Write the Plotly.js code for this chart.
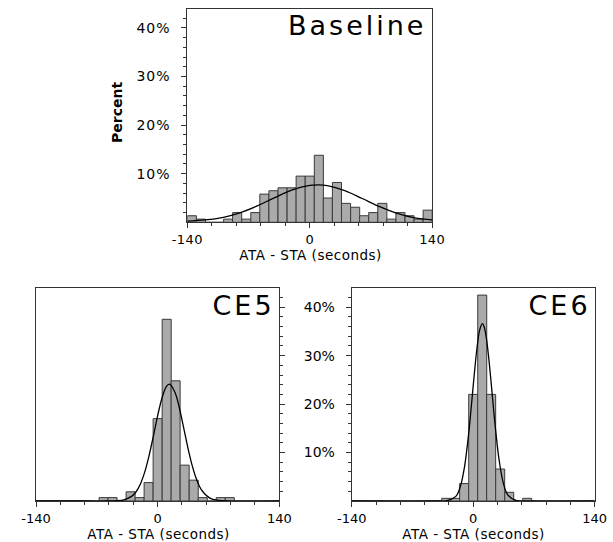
<!DOCTYPE html>
<html>
<head>
<meta charset="utf-8">
<script src="https://cdn.plot.ly/plotly-3.0.1.min.js"></script>
<style>
  html, body { margin: 0; padding: 0; background: #fff; }
  #chart { width: 613px; height: 542px; }
  .annotation[data-index="0"] text,
  .annotation[data-index="1"] text,
  .annotation[data-index="2"] text { letter-spacing: 3px; }
  .annotation[data-index="4"] text,
  .annotation[data-index="5"] text,
  .annotation[data-index="6"] text { letter-spacing: 0.5px; }
  .ytick text { letter-spacing: 1px; }
  .xtick text { letter-spacing: 0.4px; }
</style>
</head>
<body>
<div id="chart"></div>
<script>
// ---- data ----
const binWidth = 10.37; // 27 bins over -140..140
const binMid = [-134.8,-124.4,-114.1,-103.7,-93.3,-83.0,-72.6,-62.2,-51.9,-41.5,-31.1,-20.7,-10.4,0,
                10.4,20.7,31.1,41.5,51.9,62.2,72.6,83.0,93.3,103.7,114.1,124.4,134.8];

const baselinePct = [1.35,0.65,0,0,0.65,2.0,0.65,2.0,5.8,6.5,7.1,7.1,9.5,9.5,
                     13.8,5.0,8.2,3.9,3.1,1.35,2.0,3.9,0.65,2.0,1.35,0.65,2.5];
const ce5Pct = [0,0,0,0,0,0,0,0.7,0.7,0,1.9,0.7,3.8,17.0,
                37.5,24.8,7.4,4.3,0.7,0,0.7,0.7,0,0,0,0,0];
const ce6Pct = [0,0,0,0,0,0,0,0,0,0,0.55,0.55,3.6,22.0,
                42.5,22.0,6.6,1.8,0,0.55,0,0,0,0,0,0,0];

// fitted normal curves
const baseCurveX = [-140,-120,-100,-80,-60,-40,-20,0,10,20,40,60,80,100,120,140];
const baseCurveY = [0.25,0.5,0.98,1.95,3.37,5.08,6.66,7.59,7.7,7.54,6.52,4.9,3.21,1.83,0.91,0.5];

const ce5CurveX = [-140,-80,-60,-40,-30,-25,-20,-15,-10,-5,0,5,10,13.5,20,25,30,35,40,45,50,60,70,80,140];
const ce5CurveY = [0,0,0,0.2,0.95,1.86,3.46,5.91,9.27,13.33,17.6,21.27,23.6,24.1,22.4,19.2,15.05,10.83,7.15,4.33,2.41,0.6,0.12,0,0];

const ce6CurveX = [-140,-40,-30,-20,-15,-10,-5,-2.5,0,2.5,5,7.5,10.5,12.5,15,17.5,20,22.5,25,30,35,40,50,60,140];
const ce6CurveY = [0,0,0.06,0.96,2.87,7.06,14.28,18.88,23.77,28.49,32.51,35.33,36.6,36.03,33.81,30.21,25.7,20.83,16.07,8.26,3.49,1.21,0.08,0,0];

const panelLabels = ['Baseline','CE5','CE6'];
const xTitle = 'ATA - STA (seconds)';
const yTitle = 'Percent';
const xMajor = [-140,0,140];
const xMajorText = ['-140','0','140'];
const xMinor = [-112,-84,-56,-28,28,56,84,112];
const yMajor = [10,20,30,40];
const yMajorText = ['10%','20%','30%','40%'];
const yMinor = [2,4,6,8,12,14,16,18,22,24,26,28,32,34,36,38,42];

// ---- styling ----
const barFill = '#aaaaaa';
const barEdge = '#3a3a3a';
const axCol = '#333333';

function barTrace(y, xa, ya) {
  return {type:'bar', x: binMid, y: y, width: binWidth, xaxis: xa, yaxis: ya,
          marker:{color: barFill, line:{color: barEdge, width: 1}}, hoverinfo:'skip'};
}
function curveTrace(x, y, xa, ya) {
  return {type:'scatter', mode:'lines', x: x, y: y, xaxis: xa, yaxis: ya,
          line:{color:'#000', width:1.3, shape:'spline'}, hoverinfo:'skip'};
}

const data = [
  barTrace(baselinePct,'x','y'), curveTrace(baseCurveX, baseCurveY,'x','y'),
  barTrace(ce5Pct,'x2','y2'), curveTrace(ce5CurveX, ce5CurveY,'x2','y2'),
  barTrace(ce6Pct,'x3','y3'), curveTrace(ce6CurveX, ce6CurveY,'x3','y3')
];

function xAx(dom, anchor) {
  return {domain: dom, anchor: anchor, range:[-140,140], tickmode:'array', tickvals:xMajor, ticktext:xMajorText,
    ticks:'outside', ticklen:5, tickwidth:1, tickcolor:axCol, showline:true, linecolor:axCol, linewidth:1,
    mirror:true, showgrid:false, zeroline:false, ticklabelstandoff:0,
    tickfont:{family:'DejaVu Sans', size:13, color:'#000'},
    minor:{tickmode:'array', tickvals:xMinor, ticks:'outside', ticklen:3, tickwidth:1, tickcolor:axCol, showgrid:false}};
}
function yAx(dom, anchor, side, labels) {
  return {domain: dom, anchor: anchor, side: side, range:[0,43.9], tickmode:'array', tickvals:yMajor, ticktext:yMajorText,
    showticklabels: labels, ticks:'outside', ticklen:5, tickwidth:1, tickcolor:axCol, showline:true, linecolor:axCol,
    linewidth:1, mirror:true, showgrid:false, zeroline:false, ticklabelstandoff:8,
    tickfont:{family:'DejaVu Sans', size:14, color:'#000'},
    minor:{tickmode:'array', tickvals:yMinor, ticks:'outside', ticklen:3, tickwidth:1, tickcolor:axCol, showgrid:false}};
}

const W = 613, H = 542;
const px = v => v / W;
const py = v => 1 - v / H;

const layout = {
  width: W, height: H, margin:{l:0, r:0, t:0, b:0},
  paper_bgcolor:'#fff', plot_bgcolor:'#fff', showlegend:false, bargap:0,
  font:{family:'DejaVu Sans', size:14, color:'#000'},
  xaxis:  xAx([px(187.3), px(432.2)], 'y'),
  yaxis:  yAx([py(222.3), py(9)], 'x', 'left', true),
  xaxis2: xAx([px(36), px(279.3)], 'y2'),
  yaxis2: yAx([py(501), py(288.3)], 'x2', 'right', false),
  xaxis3: xAx([px(351.7), px(594.7)], 'y3'),
  yaxis3: yAx([py(501), py(288.3)], 'x3', 'left', true),
  annotations: [
    {text: panelLabels[0], xref:'paper', yref:'paper', x: px(357), y: py(25.5), xanchor:'center', yanchor:'middle',
     showarrow:false, font:{family:'DejaVu Sans', size:27, color:'#000'}},
    {text: panelLabels[1], xref:'paper', yref:'paper', x: px(243), y: py(305.5), xanchor:'center', yanchor:'middle',
     showarrow:false, font:{family:'DejaVu Sans', size:27, color:'#000'}},
    {text: panelLabels[2], xref:'paper', yref:'paper', x: px(559), y: py(305.5), xanchor:'center', yanchor:'middle',
     showarrow:false, font:{family:'DejaVu Sans', size:27, color:'#000'}},
    {text: yTitle, xref:'paper', yref:'paper', x: px(117), y: py(112), xanchor:'center', yanchor:'middle', textangle:-90,
     showarrow:false, font:{family:'DejaVu Sans', size:14, color:'#000', weight:'bold'}},
    {text: xTitle, xref:'paper', yref:'paper', x: px(310.5), y: py(255), xanchor:'center', yanchor:'middle',
     showarrow:false, font:{family:'DejaVu Sans', size:13.5, color:'#000'}},
    {text: xTitle, xref:'paper', yref:'paper', x: px(158.3), y: py(534), xanchor:'center', yanchor:'middle',
     showarrow:false, font:{family:'DejaVu Sans', size:13.5, color:'#000'}},
    {text: xTitle, xref:'paper', yref:'paper', x: px(473.9), y: py(534), xanchor:'center', yanchor:'middle',
     showarrow:false, font:{family:'DejaVu Sans', size:13.5, color:'#000'}}
  ]
};

Plotly.newPlot('chart', data, layout, {staticPlot:true, displayModeBar:false});
</script>
</body>
</html>
